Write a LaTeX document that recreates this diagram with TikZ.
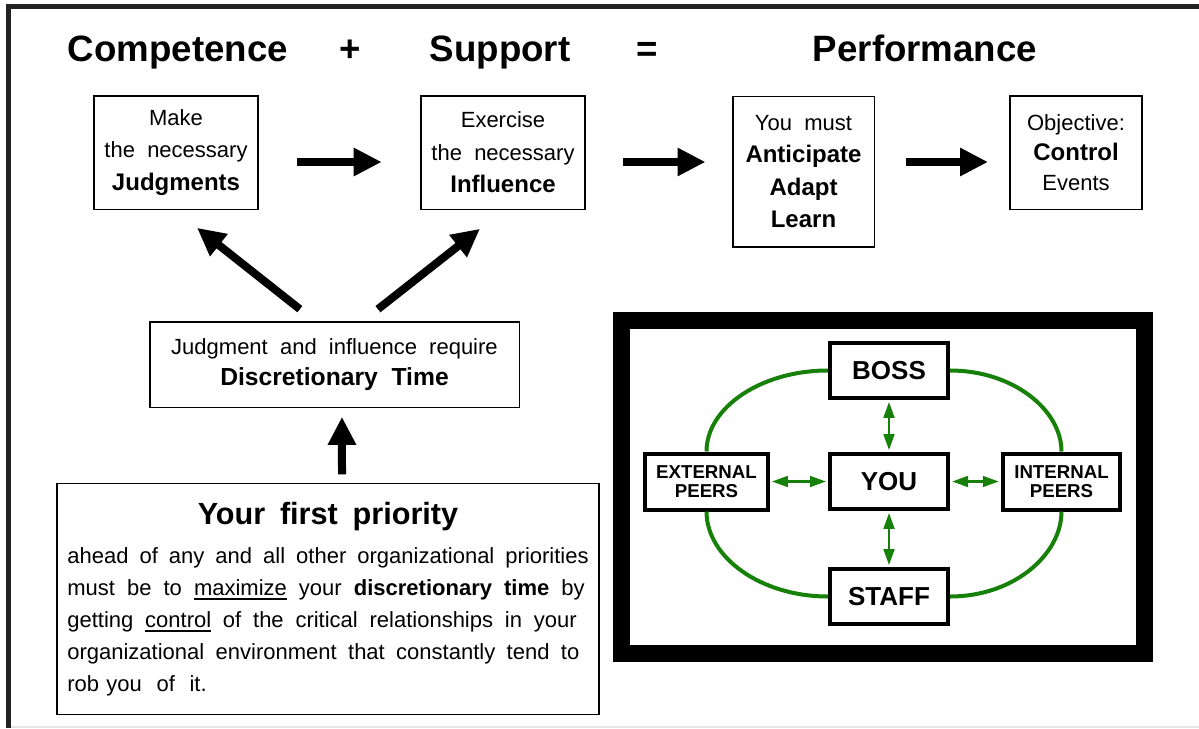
\documentclass[tikz,border=0pt]{standalone}
\usepackage{fontspec}
\setmainfont{Liberation Sans}
\usepackage{xcolor}
\usetikzlibrary{positioning,calc,arrows.meta}

\definecolor{loopgreen}{RGB}{22,128,8}
\definecolor{framegray}{RGB}{34,34,34}

\newcommand{\reg}{\fontsize{16.5}{24.4}\selectfont\mdseries}
\newcommand{\bld}{\fontsize{18}{24.4}\selectfont\bfseries}
\newcommand{\fullline}[2]{\leavevmode\hbox to #1{\spaceskip=0.3em plus 1fil\relax #2}}
\newcommand{\thickul}[1]{\setbox0\hbox{#1}\rlap{\rule[-3.5pt]{\wd0}{1.3pt}}\box0\relax}

\tikzset{
  box/.style={draw, line width=1pt, align=center, inner sep=2pt, font=\fontsize{16.5}{24.4}\selectfont},
  netbox/.style={draw, line width=3pt, align=center, inner sep=0pt},
  bigarrow/.style={line width=6pt, -{Triangle[length=21pt,width=20pt]}},
  greenarrow/.style={loopgreen, line width=2pt, {Triangle[length=12pt,width=8pt]}-{Triangle[length=12pt,width=8pt]}, shorten <=1.5pt, shorten >=1.5pt},
  loopline/.style={loopgreen, line width=3pt},
  heading/.style={anchor=base, font=\fontsize{27.5}{33}\selectfont\bfseries}
}

\begin{document}
\begin{tikzpicture}[x=0.75pt,y=-0.75pt]
    \useasboundingbox (0,0) rectangle (1199,728);

    % Frame
    \draw [framegray, line width=3.75pt] (8.5,728) -- (8.5,6.5) -- (1199,6.5);
    \draw [gray!20, line width=1.5pt] (11,727) -- (1199,727);

    % Heading
    \node[heading] (competence) at (178,61) {Competence};
    \node[heading] (plus) at (350,61) {+};
    \node[heading] (support) at (500,61) {Support};
    \node[heading] (equals) at (647,61) {=};
    \node[heading] (performance) at (925,61) {Performance};

    % Top row
    \node[box, minimum width=123pt, minimum height=85pt] (judg) at (176,152.5)
        {\reg Make\\ \reg the~~necessary\\ \bld Judgments};
    \node[box, minimum width=123pt, minimum height=85pt] (infl) at (503,152.5)
        {\reg Exercise\\ \reg the~~necessary\\ \bld Influence};
    \node[box, minimum width=106pt, minimum height=113pt] (antic) at (803.5,171.5)
        {\reg You~~must\\ \bld Anticipate\\ \bld Adapt\\ \bld Learn};
    \node[box, minimum width=99pt, minimum height=85pt, font=\fontsize{16.5}{22.5}\selectfont] (obj) at (1076,152.5)
        {\reg Objective:\\ \bld Control\\ \reg Events};

    \coordinate (arrowrow) at (0,162);
    \draw[bigarrow, shorten <=29pt, shorten >=29pt] (judg.east |- arrowrow) -- (infl.west |- arrowrow);
    \draw[bigarrow, shorten <=28pt, shorten >=20pt] (infl.east |- arrowrow) -- (antic.west |- arrowrow);
    \draw[bigarrow, shorten <=23pt, shorten >=16pt] (antic.east |- arrowrow) -- (obj.west |- arrowrow);

    % Discretionary time
    \node[box, minimum width=277pt, minimum height=64pt, font=\fontsize{16.5}{23}\selectfont] (disc) at (334.5,364.5)
        {\reg Judgment~~and~~influence~~require\\ \fontsize{18.5}{23}\selectfont\bfseries Discretionary~~Time};
    \draw[bigarrow] ([xshift=-26pt,yshift=9pt]disc.north) -- ([xshift=15.75pt,yshift=-13.5pt]judg.south);
    \draw[bigarrow] ([xshift=32.6pt,yshift=9pt]disc.north) -- ([xshift=-17.25pt,yshift=-14.25pt]infl.south);

    % First priority
    \node[draw, line width=1pt, text width=391pt, inner sep=7.75pt, minimum height=173pt, align=left,
          font=\fontsize{16.5}{24}\selectfont] (prio) at (328,599)
        {\leavevmode\hbox to 391pt{\hss\fontsize{23}{24}\selectfont\bfseries Your~~first~~priority\hss}\\[5pt]
         \fullline{391pt}{ahead of any and all other organizational priorities}\\
         \fullline{388pt}{must be to \thickul{maximize} your \textbf{discretionary time} by}\\
         \fullline{382pt}{getting \thickul{control} of the critical relationships in your}\\
         \fullline{384pt}{organizational environment that constantly tend to}\\
         rob you~ of~ it.};
    \draw[bigarrow] ([xshift=10.5pt,yshift=6.4pt]prio.north) -- ([xshift=5.6pt,yshift=-6.75pt]disc.south);

    % Relationship panel
    \node[draw, line width=12.5pt, minimum width=392.25pt, minimum height=249.75pt] (panel) at (883,487) {};
    \node[netbox, minimum width=88.5pt, minimum height=41pt, font=\fontsize{19.5}{20}\selectfont\bfseries] (boss) at (889,370.5) {BOSS};
    \node[netbox, minimum width=88.5pt, minimum height=41pt, font=\fontsize{19.5}{20}\selectfont\bfseries] (you) at (889,481.5) {YOU};
    \node[netbox, minimum width=88.5pt, minimum height=41pt, font=\fontsize{19.5}{20}\selectfont\bfseries] (staff) at (889,596.5) {STAFF};
    \node[netbox, minimum width=92pt, minimum height=42pt, font=\fontsize{14}{14.6}\selectfont\bfseries] (ext) at (706.5,481.5) {EXTERNAL\\PEERS};
    \node[netbox, minimum width=88pt, minimum height=42pt, font=\fontsize{14}{14.6}\selectfont\bfseries] (int) at (1061.5,481.5) {INTERNAL\\PEERS};

    \draw[loopline] (boss.west) to[out=180, in=90, out looseness=1.17, in looseness=0.77] (ext.north);
    \draw[loopline] (ext.south) to[out=-90, in=180, out looseness=0.79, in looseness=1.16] (staff.west);
    \draw[loopline] (staff.east) to[out=0, in=-90, out looseness=1.16, in looseness=0.79] (int.south);
    \draw[loopline] (int.north) to[out=90, in=0, out looseness=0.77, in looseness=1.17] (boss.east);

    \draw[greenarrow] (boss.south) -- (you.north);
    \draw[greenarrow] (you.south) -- (staff.north);
    \draw[greenarrow] (ext.east) -- (you.west);
    \draw[greenarrow] (you.east) -- (int.west);
\end{tikzpicture}
\end{document}
